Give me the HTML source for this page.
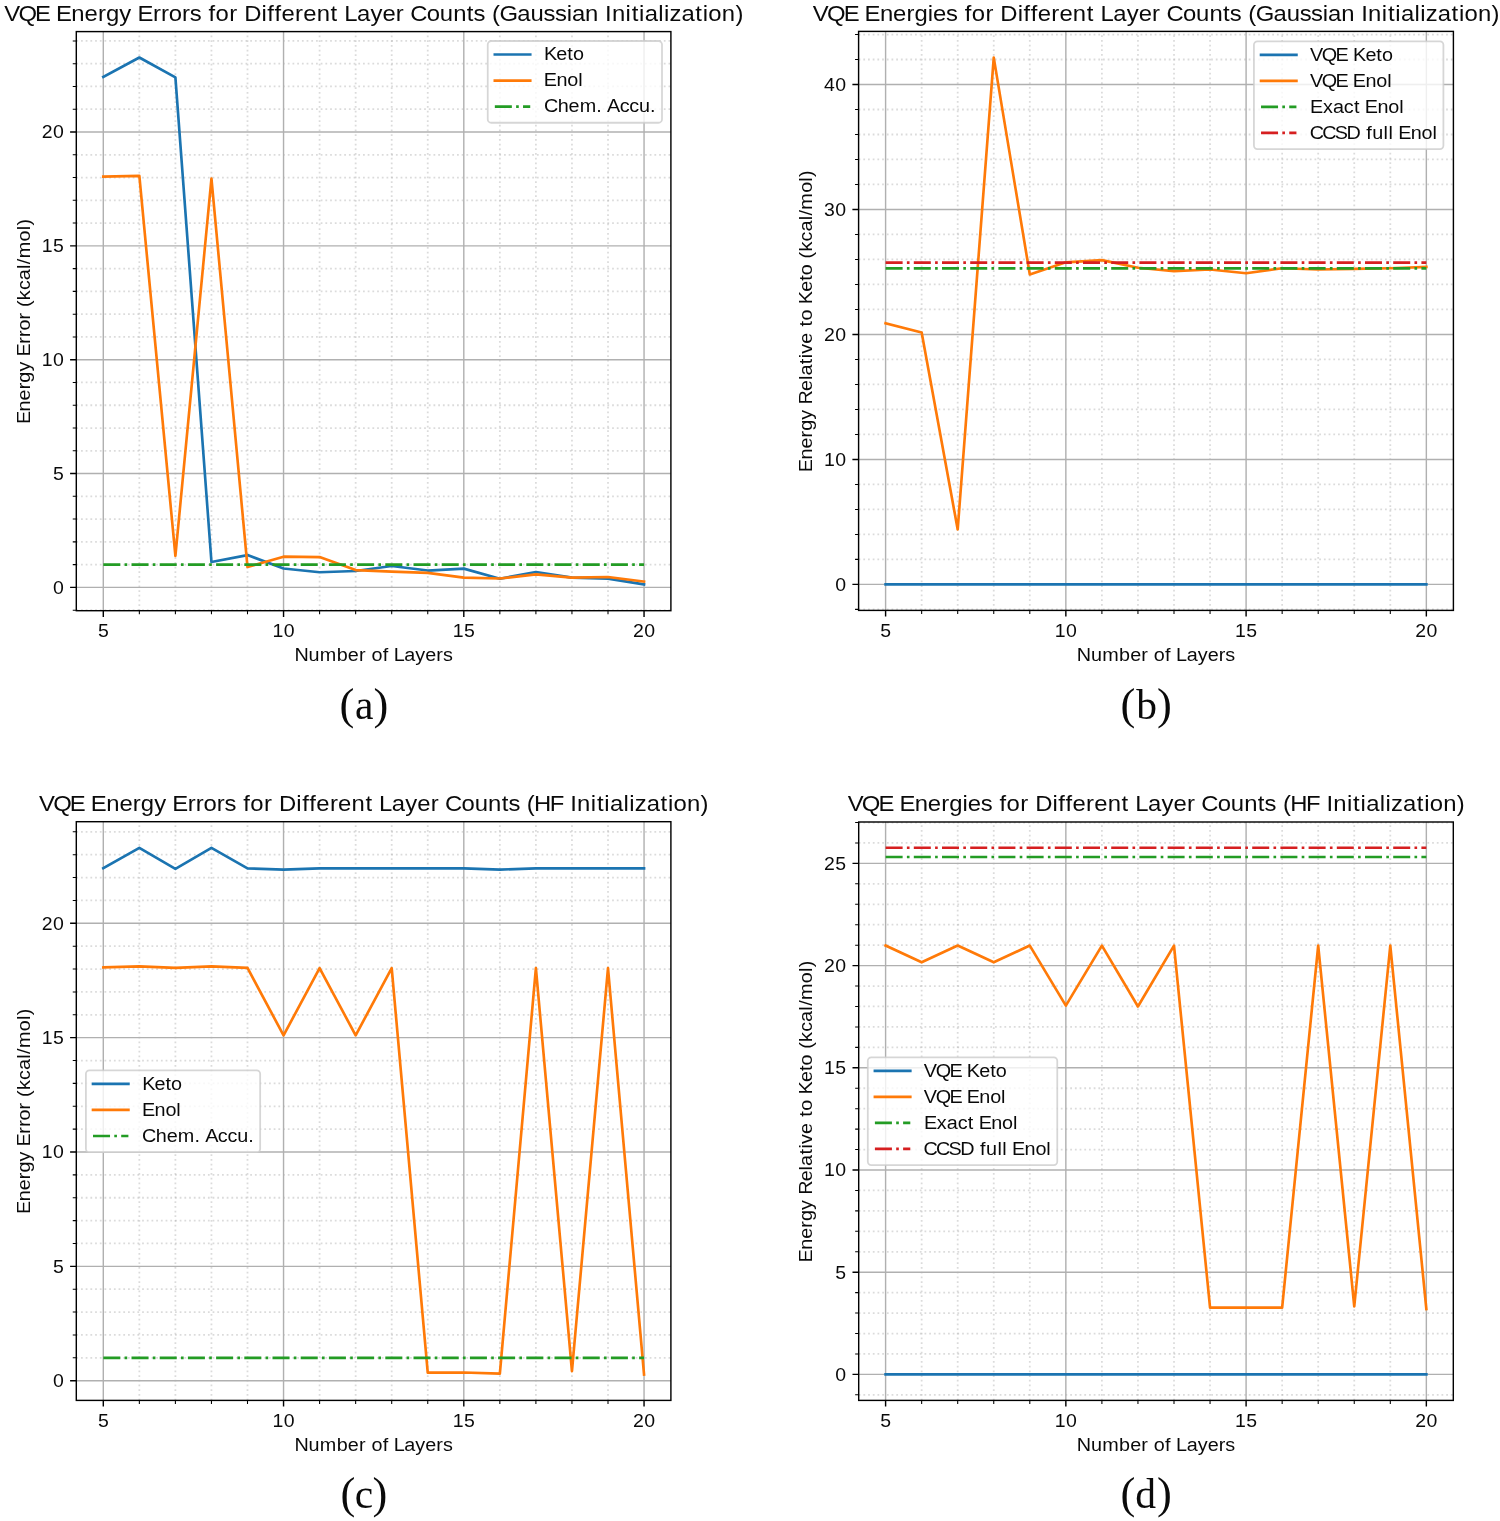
<!DOCTYPE html>
<html lang="en"><head><meta charset="utf-8"><title>VQE Energy Plots</title>
<style>
html,body{margin:0;padding:0;background:#fff}
svg{display:block;will-change:transform}
text{font-family:"Liberation Sans",sans-serif;fill:#000;opacity:.96}
.sub{font-family:"Liberation Serif",serif}
.gM{stroke:#b0b0b0;stroke-width:1.42;fill:none}
.gm{stroke:#b0b0b0;stroke-opacity:.45;stroke-width:1.77;stroke-dasharray:1.77 2.93;fill:none}
.dl{fill:none;stroke-width:2.66;stroke-linejoin:round;stroke-linecap:square}
.dd{fill:none;stroke-width:2.66;stroke-dasharray:17.02 4.26 2.66 4.26}
.tM{stroke:#000;stroke-width:1.42;fill:none}
.tm{stroke:#000;stroke-width:1.06;fill:none}
.sp{fill:none;stroke:#000;stroke-width:1.42;stroke-linejoin:miter}
.lg{fill:#fff;fill-opacity:.8;stroke:#ccc;stroke-opacity:.8;stroke-width:1.77}
</style></head>
<body>
<svg width="1500" height="1521" viewBox="0 0 1500 1521">
<g class="panel">
<clipPath id="cpa"><rect x="76.3" y="31.6" width="594.6" height="579.1"/></clipPath>
<g clip-path="url(#cpa)">
<path class="gM" d="M103.3 610.7V31.6"/>
<path class="gM" d="M283.55 610.7V31.6"/>
<path class="gM" d="M463.8 610.7V31.6"/>
<path class="gM" d="M644.05 610.7V31.6"/>
<path class="gm" d="M139.35 610.7V31.6"/>
<path class="gm" d="M175.4 610.7V31.6"/>
<path class="gm" d="M211.45 610.7V31.6"/>
<path class="gm" d="M247.5 610.7V31.6"/>
<path class="gm" d="M319.6 610.7V31.6"/>
<path class="gm" d="M355.65 610.7V31.6"/>
<path class="gm" d="M391.7 610.7V31.6"/>
<path class="gm" d="M427.75 610.7V31.6"/>
<path class="gm" d="M499.85 610.7V31.6"/>
<path class="gm" d="M535.9 610.7V31.6"/>
<path class="gm" d="M571.95 610.7V31.6"/>
<path class="gm" d="M608 610.7V31.6"/>
<path class="gM" d="M76.3 587.4H670.9"/>
<path class="gM" d="M76.3 473.55H670.9"/>
<path class="gM" d="M76.3 359.7H670.9"/>
<path class="gM" d="M76.3 245.85H670.9"/>
<path class="gM" d="M76.3 132H670.9"/>
<path class="gm" d="M76.3 610.17H670.9"/>
<path class="gm" d="M76.3 564.63H670.9"/>
<path class="gm" d="M76.3 541.86H670.9"/>
<path class="gm" d="M76.3 519.09H670.9"/>
<path class="gm" d="M76.3 496.32H670.9"/>
<path class="gm" d="M76.3 450.78H670.9"/>
<path class="gm" d="M76.3 428.01H670.9"/>
<path class="gm" d="M76.3 405.24H670.9"/>
<path class="gm" d="M76.3 382.47H670.9"/>
<path class="gm" d="M76.3 336.93H670.9"/>
<path class="gm" d="M76.3 314.16H670.9"/>
<path class="gm" d="M76.3 291.39H670.9"/>
<path class="gm" d="M76.3 268.62H670.9"/>
<path class="gm" d="M76.3 223.08H670.9"/>
<path class="gm" d="M76.3 200.31H670.9"/>
<path class="gm" d="M76.3 177.54H670.9"/>
<path class="gm" d="M76.3 154.77H670.9"/>
<path class="gm" d="M76.3 109.23H670.9"/>
<path class="gm" d="M76.3 86.46H670.9"/>
<path class="gm" d="M76.3 63.69H670.9"/>
<path class="gm" d="M76.3 40.92H670.9"/>
<polyline class="dl" stroke="#1b74b1" points="103.3,76.9 139.35,57.54 175.4,77.35 211.45,562.01 247.5,555.07 283.55,568.5 319.6,572.21 355.65,571.01 391.7,566 427.75,570.55 463.8,568.61 499.85,578.75 535.9,572.01 571.95,577.61 608,578.61 644.05,584.44"/>
<polyline class="dl" stroke="#ff7a08" points="103.3,176.63 139.35,175.95 175.4,555.98 211.45,178.68 247.5,567.02 283.55,556.66 319.6,557.12 355.65,570.09 391.7,571.69 427.75,572.83 463.8,577.61 499.85,578.52 535.9,574.42 571.95,577.61 608,577.02 644.05,581.59"/>
<path class="dd" stroke="#239c24" d="M103.3 564.63H644.05"/>
</g>
<path class="tM" d="M103.3 610.7v6.21M283.55 610.7v6.21M463.8 610.7v6.21M644.05 610.7v6.21M76.3 587.4h-6.21M76.3 473.55h-6.21M76.3 359.7h-6.21M76.3 245.85h-6.21M76.3 132h-6.21"/>
<path class="tm" d="M139.35 610.7v3.55M175.4 610.7v3.55M211.45 610.7v3.55M247.5 610.7v3.55M319.6 610.7v3.55M355.65 610.7v3.55M391.7 610.7v3.55M427.75 610.7v3.55M499.85 610.7v3.55M535.9 610.7v3.55M571.95 610.7v3.55M608 610.7v3.55M76.3 610.17h-3.55M76.3 564.63h-3.55M76.3 541.86h-3.55M76.3 519.09h-3.55M76.3 496.32h-3.55M76.3 450.78h-3.55M76.3 428.01h-3.55M76.3 405.24h-3.55M76.3 382.47h-3.55M76.3 336.93h-3.55M76.3 314.16h-3.55M76.3 291.39h-3.55M76.3 268.62h-3.55M76.3 223.08h-3.55M76.3 200.31h-3.55M76.3 177.54h-3.55M76.3 154.77h-3.55M76.3 109.23h-3.55M76.3 86.46h-3.55M76.3 63.69h-3.55M76.3 40.92h-3.55"/>
<rect class="sp" x="76.3" y="31.6" width="594.6" height="579.1"/>
<text transform="translate(103.3 636.8) scale(1.0377 1)" font-size="18.76" x="-5.22" y="0">5</text>
<text transform="translate(283.55 636.8) scale(1.0377 1)" font-size="18.76" x="-10.64 0.21" y="0">10</text>
<text transform="translate(463.8 636.8) scale(1.0377 1)" font-size="18.76" x="-10.64 0.21" y="0">15</text>
<text transform="translate(644.05 636.8) scale(1.0377 1)" font-size="18.76" x="-10.64 0.21" y="0">20</text>
<text transform="translate(64 593.8) scale(1.0377 1)" font-size="18.76" x="-10.64" y="0">0</text>
<text transform="translate(64 479.95) scale(1.0377 1)" font-size="18.76" x="-10.64" y="0">5</text>
<text transform="translate(64 366.1) scale(1.0377 1)" font-size="18.76" x="-21.5 -10.64" y="0">10</text>
<text transform="translate(64 252.25) scale(1.0377 1)" font-size="18.76" x="-21.5 -10.64" y="0">15</text>
<text transform="translate(64 138.4) scale(1.0377 1)" font-size="18.76" x="-21.5 -10.64" y="0">20</text>
<text transform="translate(373.6 660.9) scale(1.0653 1)" font-size="18.59" x="-74.37 -61.1 -50.48 -34.72 -24.3 -13.78 -7.41 -2.1 8.49 13.89 18.87 28.83 39.19 48.52 58.93 65.05" y="0">Number of Layers</text>
<text transform="translate(374.3 20.8) scale(1.0653 1)" font-size="22.41" x="-347.37 -334.01 -318.44 -304.5 -298.74 -284.38 -271.96 -259.42 -251.86 -239.33 -228 -222.28 -207.85 -200.24 -192.98 -180.63 -173.31 -162.37 -155.68 -149.07 -136.23 -128.46 -122.19 -105.88 -100.38 -93.64 -87.15 -74.36 -66.67 -54.12 -41.03 -34.31 -28.27 -16.21 -3.65 7.66 20.26 27.91 33.68 49.18 61.56 74.05 86.88 93.23 104.2 110.59 117.53 134.3 146.64 158.84 169.52 180.55 185.49 197.83 210.29 216.66 223.05 235.9 241.61 248.57 253.83 266.57 272.03 277.16 288.33 301.33 308.29 313.54 326.19 338.98" y="0">VQE Energy Errors for Different Layer Counts (Gaussian Initialization)</text>
<text transform="translate(30 321.15) rotate(-90) scale(1.0653 1)" font-size="18.59" x="-96.66 -84.75 -74.45 -64.04 -57.78 -47.38 -37.99 -33.22 -21.22 -14.86 -8.8 1.48 7.79 13.21 19.68 29.14 38.49 49.03 53.52 59.09 74.84 85.38 89.83" y="0">Energy Error (kcal/mol)</text>
<rect class="lg" x="487.73" y="41" width="174.27" height="81.75" rx="3.5"/>
<path class="dl" stroke="#1b74b1" d="M494.83 54.5h35.4"/>
<text transform="translate(544.43 60.3) scale(1.0653 1)" font-size="18.59" x="-0.45 11.17 21.45 26.75" y="0">Keto</text>
<path class="dl" stroke="#ff7a08" d="M494.83 80.55h35.4"/>
<text transform="translate(544.43 86.35) scale(1.0653 1)" font-size="18.59" x="-0.56 11.24 21.4 31.64" y="0">Enol</text>
<path class="dd" stroke="#239c24" d="M494.83 106.6h35.4"/>
<text transform="translate(544.43 112.4) scale(1.0653 1)" font-size="18.59" x="-0.5 12.42 22.69 33.08 48.67 53.82 58.78 70.67 79.68 88.85 99.13" y="0">Chem. Accu.</text>
</g>
<g class="panel">
<clipPath id="cpb"><rect x="858.6" y="31.4" width="594.8" height="579"/></clipPath>
<g clip-path="url(#cpb)">
<path class="gM" d="M885.6 610.4V31.4"/>
<path class="gM" d="M1065.85 610.4V31.4"/>
<path class="gM" d="M1246.1 610.4V31.4"/>
<path class="gM" d="M1426.35 610.4V31.4"/>
<path class="gm" d="M921.65 610.4V31.4"/>
<path class="gm" d="M957.7 610.4V31.4"/>
<path class="gm" d="M993.75 610.4V31.4"/>
<path class="gm" d="M1029.8 610.4V31.4"/>
<path class="gm" d="M1101.9 610.4V31.4"/>
<path class="gm" d="M1137.95 610.4V31.4"/>
<path class="gm" d="M1174 610.4V31.4"/>
<path class="gm" d="M1210.05 610.4V31.4"/>
<path class="gm" d="M1282.15 610.4V31.4"/>
<path class="gm" d="M1318.2 610.4V31.4"/>
<path class="gm" d="M1354.25 610.4V31.4"/>
<path class="gm" d="M1390.3 610.4V31.4"/>
<path class="gM" d="M858.6 584.4H1453.4"/>
<path class="gM" d="M858.6 459.42H1453.4"/>
<path class="gM" d="M858.6 334.45H1453.4"/>
<path class="gM" d="M858.6 209.47H1453.4"/>
<path class="gM" d="M858.6 84.5H1453.4"/>
<path class="gm" d="M858.6 609.39H1453.4"/>
<path class="gm" d="M858.6 559.4H1453.4"/>
<path class="gm" d="M858.6 534.41H1453.4"/>
<path class="gm" d="M858.6 509.41H1453.4"/>
<path class="gm" d="M858.6 484.42H1453.4"/>
<path class="gm" d="M858.6 434.43H1453.4"/>
<path class="gm" d="M858.6 409.43H1453.4"/>
<path class="gm" d="M858.6 384.44H1453.4"/>
<path class="gm" d="M858.6 359.44H1453.4"/>
<path class="gm" d="M858.6 309.45H1453.4"/>
<path class="gm" d="M858.6 284.46H1453.4"/>
<path class="gm" d="M858.6 259.46H1453.4"/>
<path class="gm" d="M858.6 234.47H1453.4"/>
<path class="gm" d="M858.6 184.48H1453.4"/>
<path class="gm" d="M858.6 159.48H1453.4"/>
<path class="gm" d="M858.6 134.49H1453.4"/>
<path class="gm" d="M858.6 109.49H1453.4"/>
<path class="gm" d="M858.6 59.5H1453.4"/>
<path class="gm" d="M858.6 34.51H1453.4"/>
<polyline class="dl" stroke="#1b74b1" points="885.6,584.4 921.65,584.4 957.7,584.4 993.75,584.4 1029.8,584.4 1065.85,584.4 1101.9,584.4 1137.95,584.4 1174,584.4 1210.05,584.4 1246.1,584.4 1282.15,584.4 1318.2,584.4 1354.25,584.4 1390.3,584.4 1426.35,584.4"/>
<polyline class="dl" stroke="#ff7a08" points="885.6,323.2 921.65,332.58 957.7,529.41 993.75,57.63 1029.8,274.46 1065.85,262.34 1101.9,260.09 1137.95,267.71 1174,271.09 1210.05,269.46 1246.1,273.21 1282.15,268.21 1318.2,269.46 1354.25,268.84 1390.3,268.21 1426.35,266.96"/>
<path class="dd" stroke="#239c24" d="M885.6 268.34H1426.35"/>
<path class="dd" stroke="#d61f20" d="M885.6 262.59H1426.35"/>
</g>
<path class="tM" d="M885.6 610.4v6.21M1065.85 610.4v6.21M1246.1 610.4v6.21M1426.35 610.4v6.21M858.6 584.4h-6.21M858.6 459.42h-6.21M858.6 334.45h-6.21M858.6 209.47h-6.21M858.6 84.5h-6.21"/>
<path class="tm" d="M921.65 610.4v3.55M957.7 610.4v3.55M993.75 610.4v3.55M1029.8 610.4v3.55M1101.9 610.4v3.55M1137.95 610.4v3.55M1174 610.4v3.55M1210.05 610.4v3.55M1282.15 610.4v3.55M1318.2 610.4v3.55M1354.25 610.4v3.55M1390.3 610.4v3.55M858.6 609.39h-3.55M858.6 559.4h-3.55M858.6 534.41h-3.55M858.6 509.41h-3.55M858.6 484.42h-3.55M858.6 434.43h-3.55M858.6 409.43h-3.55M858.6 384.44h-3.55M858.6 359.44h-3.55M858.6 309.45h-3.55M858.6 284.46h-3.55M858.6 259.46h-3.55M858.6 234.47h-3.55M858.6 184.48h-3.55M858.6 159.48h-3.55M858.6 134.49h-3.55M858.6 109.49h-3.55M858.6 59.5h-3.55M858.6 34.51h-3.55"/>
<rect class="sp" x="858.6" y="31.4" width="594.8" height="579"/>
<text transform="translate(885.6 636.5) scale(1.0377 1)" font-size="18.76" x="-5.22" y="0">5</text>
<text transform="translate(1065.85 636.5) scale(1.0377 1)" font-size="18.76" x="-10.64 0.21" y="0">10</text>
<text transform="translate(1246.1 636.5) scale(1.0377 1)" font-size="18.76" x="-10.64 0.21" y="0">15</text>
<text transform="translate(1426.35 636.5) scale(1.0377 1)" font-size="18.76" x="-10.64 0.21" y="0">20</text>
<text transform="translate(846.3 590.8) scale(1.0377 1)" font-size="18.76" x="-10.64" y="0">0</text>
<text transform="translate(846.3 465.82) scale(1.0377 1)" font-size="18.76" x="-21.5 -10.64" y="0">10</text>
<text transform="translate(846.3 340.85) scale(1.0377 1)" font-size="18.76" x="-21.5 -10.64" y="0">20</text>
<text transform="translate(846.3 215.87) scale(1.0377 1)" font-size="18.76" x="-21.5 -10.64" y="0">30</text>
<text transform="translate(846.3 90.9) scale(1.0377 1)" font-size="18.76" x="-21.5 -10.64" y="0">40</text>
<text transform="translate(1156 660.6) scale(1.0653 1)" font-size="18.59" x="-74.37 -61.1 -50.48 -34.72 -24.3 -13.78 -7.41 -2.1 8.49 13.89 18.87 28.83 39.19 48.52 58.93 65.05" y="0">Number of Layers</text>
<text transform="translate(1156.7 20.8) scale(1.0653 1)" font-size="22.41" x="-322.79 -309.43 -293.86 -279.92 -274.18 -259.86 -247.49 -234.98 -227.47 -215 -210.02 -197.9 -186.95 -180.26 -173.65 -160.81 -153.04 -146.77 -130.46 -124.96 -118.22 -111.73 -98.94 -91.25 -78.7 -65.61 -58.89 -52.85 -40.78 -28.23 -16.92 -4.32 3.33 9.1 24.6 36.98 49.47 62.3 68.65 79.62 86.01 92.95 109.72 122.06 134.26 144.94 155.97 160.91 173.25 185.71 192.08 198.47 211.32 217.03 223.99 229.25 241.99 247.45 252.58 263.75 276.75 283.71 288.96 301.61 314.4" y="0">VQE Energies for Different Layer Counts (Gaussian Initialization)</text>
<text transform="translate(812 320.9) rotate(-90) scale(1.0653 1)" font-size="18.59" x="-142.02 -130.11 -119.81 -109.4 -103.13 -92.74 -83.34 -78.54 -65.81 -55.58 -51.37 -40.75 -35.13 -30.75 -21.36 -11.06 -5.3 0.46 10.9 15.73 27.35 37.63 42.94 53.15 58.57 65.04 74.5 83.84 94.39 98.88 104.45 120.19 130.74 135.19" y="0">Energy Relative to Keto (kcal/mol)</text>
<rect class="lg" x="1253.93" y="41.3" width="189.47" height="107.8" rx="3.5"/>
<path class="dl" stroke="#1b74b1" d="M1261.03 54.8h35.4"/>
<text transform="translate(1310.63 60.6) scale(1.0653 1)" font-size="18.59" x="-0.62 10.46 23.38 34.94 39.77 51.4 61.68 66.98" y="0">VQE Keto</text>
<path class="dl" stroke="#ff7a08" d="M1261.03 80.85h35.4"/>
<text transform="translate(1310.63 86.65) scale(1.0653 1)" font-size="18.59" x="-0.62 10.46 23.38 34.94 39.66 51.46 61.63 71.87" y="0">VQE Enol</text>
<path class="dd" stroke="#239c24" d="M1261.03 106.9h35.4"/>
<text transform="translate(1310.63 112.7) scale(1.0653 1)" font-size="18.59" x="-0.49 11.53 20.89 31.12 40.68 46.16 50.88 62.68 72.85 83.09" y="0">Exact Enol</text>
<path class="dd" stroke="#d61f20" d="M1261.03 132.95h35.4"/>
<text transform="translate(1310.63 138.75) scale(1.0653 1)" font-size="18.59" x="-0.84 10.91 22.65 33.66 46.54 52.11 57.73 68.46 73.07 77.43 82.15 93.95 104.12 114.36" y="0">CCSD full Enol</text>
</g>
<g class="panel">
<clipPath id="cpc"><rect x="76.3" y="821.7" width="594.6" height="578.7"/></clipPath>
<g clip-path="url(#cpc)">
<path class="gM" d="M103.3 1400.4V821.7"/>
<path class="gM" d="M283.55 1400.4V821.7"/>
<path class="gM" d="M463.8 1400.4V821.7"/>
<path class="gM" d="M644.05 1400.4V821.7"/>
<path class="gm" d="M139.35 1400.4V821.7"/>
<path class="gm" d="M175.4 1400.4V821.7"/>
<path class="gm" d="M211.45 1400.4V821.7"/>
<path class="gm" d="M247.5 1400.4V821.7"/>
<path class="gm" d="M319.6 1400.4V821.7"/>
<path class="gm" d="M355.65 1400.4V821.7"/>
<path class="gm" d="M391.7 1400.4V821.7"/>
<path class="gm" d="M427.75 1400.4V821.7"/>
<path class="gm" d="M499.85 1400.4V821.7"/>
<path class="gm" d="M535.9 1400.4V821.7"/>
<path class="gm" d="M571.95 1400.4V821.7"/>
<path class="gm" d="M608 1400.4V821.7"/>
<path class="gM" d="M76.3 1380.7H670.9"/>
<path class="gM" d="M76.3 1266.35H670.9"/>
<path class="gM" d="M76.3 1152H670.9"/>
<path class="gM" d="M76.3 1037.65H670.9"/>
<path class="gM" d="M76.3 923.3H670.9"/>
<path class="gm" d="M76.3 1357.83H670.9"/>
<path class="gm" d="M76.3 1334.96H670.9"/>
<path class="gm" d="M76.3 1312.09H670.9"/>
<path class="gm" d="M76.3 1289.22H670.9"/>
<path class="gm" d="M76.3 1243.48H670.9"/>
<path class="gm" d="M76.3 1220.61H670.9"/>
<path class="gm" d="M76.3 1197.74H670.9"/>
<path class="gm" d="M76.3 1174.87H670.9"/>
<path class="gm" d="M76.3 1129.13H670.9"/>
<path class="gm" d="M76.3 1106.26H670.9"/>
<path class="gm" d="M76.3 1083.39H670.9"/>
<path class="gm" d="M76.3 1060.52H670.9"/>
<path class="gm" d="M76.3 1014.78H670.9"/>
<path class="gm" d="M76.3 991.91H670.9"/>
<path class="gm" d="M76.3 969.04H670.9"/>
<path class="gm" d="M76.3 946.17H670.9"/>
<path class="gm" d="M76.3 900.43H670.9"/>
<path class="gm" d="M76.3 877.56H670.9"/>
<path class="gm" d="M76.3 854.69H670.9"/>
<path class="gm" d="M76.3 831.82H670.9"/>
<polyline class="dl" stroke="#1b74b1" points="103.3,868.18 139.35,847.83 175.4,868.87 211.45,847.83 247.5,868.41 283.55,869.56 319.6,868.41 355.65,868.41 391.7,868.41 427.75,868.41 463.8,868.41 499.85,869.56 535.9,868.41 571.95,868.41 608,868.41 644.05,868.41"/>
<polyline class="dl" stroke="#ff7a08" points="103.3,967.44 139.35,966.3 175.4,967.9 211.45,966.3 247.5,967.9 283.55,1035.36 319.6,968.13 355.65,1035.36 391.7,968.13 427.75,1372.6 463.8,1372.47 499.85,1373.61 535.9,968.13 571.95,1371.09 608,968.13 644.05,1374.53"/>
<path class="dd" stroke="#239c24" d="M103.3 1357.83H644.05"/>
</g>
<path class="tM" d="M103.3 1400.4v6.21M283.55 1400.4v6.21M463.8 1400.4v6.21M644.05 1400.4v6.21M76.3 1380.7h-6.21M76.3 1266.35h-6.21M76.3 1152h-6.21M76.3 1037.65h-6.21M76.3 923.3h-6.21"/>
<path class="tm" d="M139.35 1400.4v3.55M175.4 1400.4v3.55M211.45 1400.4v3.55M247.5 1400.4v3.55M319.6 1400.4v3.55M355.65 1400.4v3.55M391.7 1400.4v3.55M427.75 1400.4v3.55M499.85 1400.4v3.55M535.9 1400.4v3.55M571.95 1400.4v3.55M608 1400.4v3.55M76.3 1357.83h-3.55M76.3 1334.96h-3.55M76.3 1312.09h-3.55M76.3 1289.22h-3.55M76.3 1243.48h-3.55M76.3 1220.61h-3.55M76.3 1197.74h-3.55M76.3 1174.87h-3.55M76.3 1129.13h-3.55M76.3 1106.26h-3.55M76.3 1083.39h-3.55M76.3 1060.52h-3.55M76.3 1014.78h-3.55M76.3 991.91h-3.55M76.3 969.04h-3.55M76.3 946.17h-3.55M76.3 900.43h-3.55M76.3 877.56h-3.55M76.3 854.69h-3.55M76.3 831.82h-3.55"/>
<rect class="sp" x="76.3" y="821.7" width="594.6" height="578.7"/>
<text transform="translate(103.3 1426.5) scale(1.0377 1)" font-size="18.76" x="-5.22" y="0">5</text>
<text transform="translate(283.55 1426.5) scale(1.0377 1)" font-size="18.76" x="-10.64 0.21" y="0">10</text>
<text transform="translate(463.8 1426.5) scale(1.0377 1)" font-size="18.76" x="-10.64 0.21" y="0">15</text>
<text transform="translate(644.05 1426.5) scale(1.0377 1)" font-size="18.76" x="-10.64 0.21" y="0">20</text>
<text transform="translate(64 1387.1) scale(1.0377 1)" font-size="18.76" x="-10.64" y="0">0</text>
<text transform="translate(64 1272.75) scale(1.0377 1)" font-size="18.76" x="-10.64" y="0">5</text>
<text transform="translate(64 1158.4) scale(1.0377 1)" font-size="18.76" x="-21.5 -10.64" y="0">10</text>
<text transform="translate(64 1044.05) scale(1.0377 1)" font-size="18.76" x="-21.5 -10.64" y="0">15</text>
<text transform="translate(64 929.7) scale(1.0377 1)" font-size="18.76" x="-21.5 -10.64" y="0">20</text>
<text transform="translate(373.6 1450.6) scale(1.0653 1)" font-size="18.59" x="-74.37 -61.1 -50.48 -34.72 -24.3 -13.78 -7.41 -2.1 8.49 13.89 18.87 28.83 39.19 48.52 58.93 65.05" y="0">Number of Layers</text>
<text transform="translate(374.3 810.8) scale(1.0653 1)" font-size="22.41" x="-314.71 -301.35 -285.78 -271.84 -266.08 -251.72 -239.31 -226.76 -219.2 -206.67 -195.34 -189.62 -175.2 -167.58 -160.32 -147.97 -140.65 -129.71 -123.02 -116.41 -103.57 -95.8 -89.54 -73.22 -67.72 -60.98 -54.49 -41.7 -34.01 -21.47 -8.37 -1.65 4.38 16.45 29.01 40.32 52.92 60.57 66.34 81.83 94.21 106.7 119.54 125.89 136.86 143.07 149.85 164.73 177.63 184.01 190.39 203.24 208.95 215.91 221.17 233.91 239.37 244.5 255.67 268.67 275.63 280.88 293.53 306.32" y="0">VQE Energy Errors for Different Layer Counts (HF Initialization)</text>
<text transform="translate(30 1111.05) rotate(-90) scale(1.0653 1)" font-size="18.59" x="-96.66 -84.75 -74.45 -64.04 -57.78 -47.38 -37.99 -33.22 -21.22 -14.86 -8.8 1.48 7.79 13.21 19.68 29.14 38.49 49.03 53.52 59.09 74.84 85.38 89.83" y="0">Energy Error (kcal/mol)</text>
<rect class="lg" x="85.9" y="1070.4" width="174.27" height="81.75" rx="3.5"/>
<path class="dl" stroke="#1b74b1" d="M93 1083.9h35.4"/>
<text transform="translate(142.6 1089.7) scale(1.0653 1)" font-size="18.59" x="-0.45 11.17 21.45 26.75" y="0">Keto</text>
<path class="dl" stroke="#ff7a08" d="M93 1109.95h35.4"/>
<text transform="translate(142.6 1115.75) scale(1.0653 1)" font-size="18.59" x="-0.56 11.24 21.4 31.64" y="0">Enol</text>
<path class="dd" stroke="#239c24" d="M93 1136h35.4"/>
<text transform="translate(142.6 1141.8) scale(1.0653 1)" font-size="18.59" x="-0.5 12.42 22.69 33.08 48.67 53.82 58.78 70.67 79.68 88.85 99.13" y="0">Chem. Accu.</text>
</g>
<g class="panel">
<clipPath id="cpd"><rect x="858.7" y="822" width="594.6" height="578.4"/></clipPath>
<g clip-path="url(#cpd)">
<path class="gM" d="M885.6 1400.4V822"/>
<path class="gM" d="M1065.85 1400.4V822"/>
<path class="gM" d="M1246.1 1400.4V822"/>
<path class="gM" d="M1426.35 1400.4V822"/>
<path class="gm" d="M921.65 1400.4V822"/>
<path class="gm" d="M957.7 1400.4V822"/>
<path class="gm" d="M993.75 1400.4V822"/>
<path class="gm" d="M1029.8 1400.4V822"/>
<path class="gm" d="M1101.9 1400.4V822"/>
<path class="gm" d="M1137.95 1400.4V822"/>
<path class="gm" d="M1174 1400.4V822"/>
<path class="gm" d="M1210.05 1400.4V822"/>
<path class="gm" d="M1282.15 1400.4V822"/>
<path class="gm" d="M1318.2 1400.4V822"/>
<path class="gm" d="M1354.25 1400.4V822"/>
<path class="gm" d="M1390.3 1400.4V822"/>
<path class="gM" d="M858.7 1374.4H1453.3"/>
<path class="gM" d="M858.7 1272.2H1453.3"/>
<path class="gM" d="M858.7 1170H1453.3"/>
<path class="gM" d="M858.7 1067.8H1453.3"/>
<path class="gM" d="M858.7 965.6H1453.3"/>
<path class="gM" d="M858.7 863.4H1453.3"/>
<path class="gm" d="M858.7 1394.84H1453.3"/>
<path class="gm" d="M858.7 1353.96H1453.3"/>
<path class="gm" d="M858.7 1333.52H1453.3"/>
<path class="gm" d="M858.7 1313.08H1453.3"/>
<path class="gm" d="M858.7 1292.64H1453.3"/>
<path class="gm" d="M858.7 1251.76H1453.3"/>
<path class="gm" d="M858.7 1231.32H1453.3"/>
<path class="gm" d="M858.7 1210.88H1453.3"/>
<path class="gm" d="M858.7 1190.44H1453.3"/>
<path class="gm" d="M858.7 1149.56H1453.3"/>
<path class="gm" d="M858.7 1129.12H1453.3"/>
<path class="gm" d="M858.7 1108.68H1453.3"/>
<path class="gm" d="M858.7 1088.24H1453.3"/>
<path class="gm" d="M858.7 1047.36H1453.3"/>
<path class="gm" d="M858.7 1026.92H1453.3"/>
<path class="gm" d="M858.7 1006.48H1453.3"/>
<path class="gm" d="M858.7 986.04H1453.3"/>
<path class="gm" d="M858.7 945.16H1453.3"/>
<path class="gm" d="M858.7 924.72H1453.3"/>
<path class="gm" d="M858.7 904.28H1453.3"/>
<path class="gm" d="M858.7 883.84H1453.3"/>
<path class="gm" d="M858.7 842.96H1453.3"/>
<path class="gm" d="M858.7 822.52H1453.3"/>
<polyline class="dl" stroke="#1b74b1" points="885.6,1374.4 921.65,1374.4 957.7,1374.4 993.75,1374.4 1029.8,1374.4 1065.85,1374.4 1101.9,1374.4 1137.95,1374.4 1174,1374.4 1210.05,1374.4 1246.1,1374.4 1282.15,1374.4 1318.2,1374.4 1354.25,1374.4 1390.3,1374.4 1426.35,1374.4"/>
<polyline class="dl" stroke="#ff7a08" points="885.6,945.57 921.65,962.33 957.7,945.57 993.75,962.33 1029.8,945.57 1065.85,1005.66 1101.9,945.57 1137.95,1006.48 1174,945.57 1210.05,1307.56 1246.1,1307.56 1282.15,1307.56 1318.2,945.57 1354.25,1306.33 1390.3,945.57 1426.35,1308.99"/>
<path class="dd" stroke="#239c24" d="M885.6 856.98H1426.35"/>
<path class="dd" stroke="#d61f20" d="M885.6 847.78H1426.35"/>
</g>
<path class="tM" d="M885.6 1400.4v6.21M1065.85 1400.4v6.21M1246.1 1400.4v6.21M1426.35 1400.4v6.21M858.7 1374.4h-6.21M858.7 1272.2h-6.21M858.7 1170h-6.21M858.7 1067.8h-6.21M858.7 965.6h-6.21M858.7 863.4h-6.21"/>
<path class="tm" d="M921.65 1400.4v3.55M957.7 1400.4v3.55M993.75 1400.4v3.55M1029.8 1400.4v3.55M1101.9 1400.4v3.55M1137.95 1400.4v3.55M1174 1400.4v3.55M1210.05 1400.4v3.55M1282.15 1400.4v3.55M1318.2 1400.4v3.55M1354.25 1400.4v3.55M1390.3 1400.4v3.55M858.7 1394.84h-3.55M858.7 1353.96h-3.55M858.7 1333.52h-3.55M858.7 1313.08h-3.55M858.7 1292.64h-3.55M858.7 1251.76h-3.55M858.7 1231.32h-3.55M858.7 1210.88h-3.55M858.7 1190.44h-3.55M858.7 1149.56h-3.55M858.7 1129.12h-3.55M858.7 1108.68h-3.55M858.7 1088.24h-3.55M858.7 1047.36h-3.55M858.7 1026.92h-3.55M858.7 1006.48h-3.55M858.7 986.04h-3.55M858.7 945.16h-3.55M858.7 924.72h-3.55M858.7 904.28h-3.55M858.7 883.84h-3.55M858.7 842.96h-3.55M858.7 822.52h-3.55"/>
<rect class="sp" x="858.7" y="822" width="594.6" height="578.4"/>
<text transform="translate(885.6 1426.5) scale(1.0377 1)" font-size="18.76" x="-5.22" y="0">5</text>
<text transform="translate(1065.85 1426.5) scale(1.0377 1)" font-size="18.76" x="-10.64 0.21" y="0">10</text>
<text transform="translate(1246.1 1426.5) scale(1.0377 1)" font-size="18.76" x="-10.64 0.21" y="0">15</text>
<text transform="translate(1426.35 1426.5) scale(1.0377 1)" font-size="18.76" x="-10.64 0.21" y="0">20</text>
<text transform="translate(846.4 1380.8) scale(1.0377 1)" font-size="18.76" x="-10.64" y="0">0</text>
<text transform="translate(846.4 1278.6) scale(1.0377 1)" font-size="18.76" x="-10.64" y="0">5</text>
<text transform="translate(846.4 1176.4) scale(1.0377 1)" font-size="18.76" x="-21.5 -10.64" y="0">10</text>
<text transform="translate(846.4 1074.2) scale(1.0377 1)" font-size="18.76" x="-21.5 -10.64" y="0">15</text>
<text transform="translate(846.4 972) scale(1.0377 1)" font-size="18.76" x="-21.5 -10.64" y="0">20</text>
<text transform="translate(846.4 869.8) scale(1.0377 1)" font-size="18.76" x="-21.5 -10.64" y="0">25</text>
<text transform="translate(1156 1450.6) scale(1.0653 1)" font-size="18.59" x="-74.37 -61.1 -50.48 -34.72 -24.3 -13.78 -7.41 -2.1 8.49 13.89 18.87 28.83 39.19 48.52 58.93 65.05" y="0">Number of Layers</text>
<text transform="translate(1156.7 810.8) scale(1.0653 1)" font-size="22.41" x="-290.13 -276.77 -261.2 -247.26 -241.52 -227.2 -214.83 -202.33 -194.81 -182.34 -177.36 -165.24 -154.29 -147.6 -140.99 -128.15 -120.38 -114.11 -97.8 -92.3 -85.56 -79.07 -66.28 -58.59 -46.05 -32.95 -26.23 -20.2 -8.13 4.43 15.74 28.34 35.99 41.76 57.26 69.63 82.12 94.96 101.31 112.28 118.49 125.27 140.15 153.05 159.43 165.81 178.66 184.37 191.33 196.59 209.33 214.79 219.92 231.09 244.09 251.05 256.3 268.95 281.74" y="0">VQE Energies for Different Layer Counts (HF Initialization)</text>
<text transform="translate(812 1111.2) rotate(-90) scale(1.0653 1)" font-size="18.59" x="-142.02 -130.11 -119.81 -109.4 -103.13 -92.74 -83.34 -78.54 -65.81 -55.58 -51.37 -40.75 -35.13 -30.75 -21.36 -11.06 -5.3 0.46 10.9 15.73 27.35 37.63 42.94 53.15 58.57 65.04 74.5 83.84 94.39 98.88 104.45 120.19 130.74 135.19" y="0">Energy Relative to Keto (kcal/mol)</text>
<rect class="lg" x="867.8" y="1057.3" width="189.47" height="107.8" rx="3.5"/>
<path class="dl" stroke="#1b74b1" d="M874.9 1070.8h35.4"/>
<text transform="translate(924.5 1076.6) scale(1.0653 1)" font-size="18.59" x="-0.62 10.46 23.38 34.94 39.77 51.4 61.68 66.98" y="0">VQE Keto</text>
<path class="dl" stroke="#ff7a08" d="M874.9 1096.85h35.4"/>
<text transform="translate(924.5 1102.65) scale(1.0653 1)" font-size="18.59" x="-0.62 10.46 23.38 34.94 39.66 51.46 61.63 71.87" y="0">VQE Enol</text>
<path class="dd" stroke="#239c24" d="M874.9 1122.9h35.4"/>
<text transform="translate(924.5 1128.7) scale(1.0653 1)" font-size="18.59" x="-0.49 11.53 20.89 31.12 40.68 46.16 50.88 62.68 72.85 83.09" y="0">Exact Enol</text>
<path class="dd" stroke="#d61f20" d="M874.9 1148.95h35.4"/>
<text transform="translate(924.5 1154.75) scale(1.0653 1)" font-size="18.59" x="-0.84 10.91 22.65 33.66 46.54 52.11 57.73 68.46 73.07 77.43 82.15 93.95 104.12 114.36" y="0">CCSD full Enol</text>
</g>
<text class="sub" y="718.6"><tspan x="339.39" font-size="44.5">(</tspan><tspan x="355.03" font-size="41.5">a</tspan><tspan x="373.4" font-size="44.5">)</tspan></text>
<text class="sub" y="718.6"><tspan x="1120.59" font-size="44.5">(</tspan><tspan x="1136.31" font-size="41.5">b</tspan><tspan x="1157" font-size="44.5">)</tspan></text>
<text class="sub" y="1508.4"><tspan x="340.59" font-size="44.5">(</tspan><tspan x="354.72" font-size="41.5">c</tspan><tspan x="372.5" font-size="44.5">)</tspan></text>
<text class="sub" y="1508.4"><tspan x="1120.59" font-size="44.5">(</tspan><tspan x="1135.33" font-size="41.5">d</tspan><tspan x="1157" font-size="44.5">)</tspan></text>
</svg>
</body></html>
